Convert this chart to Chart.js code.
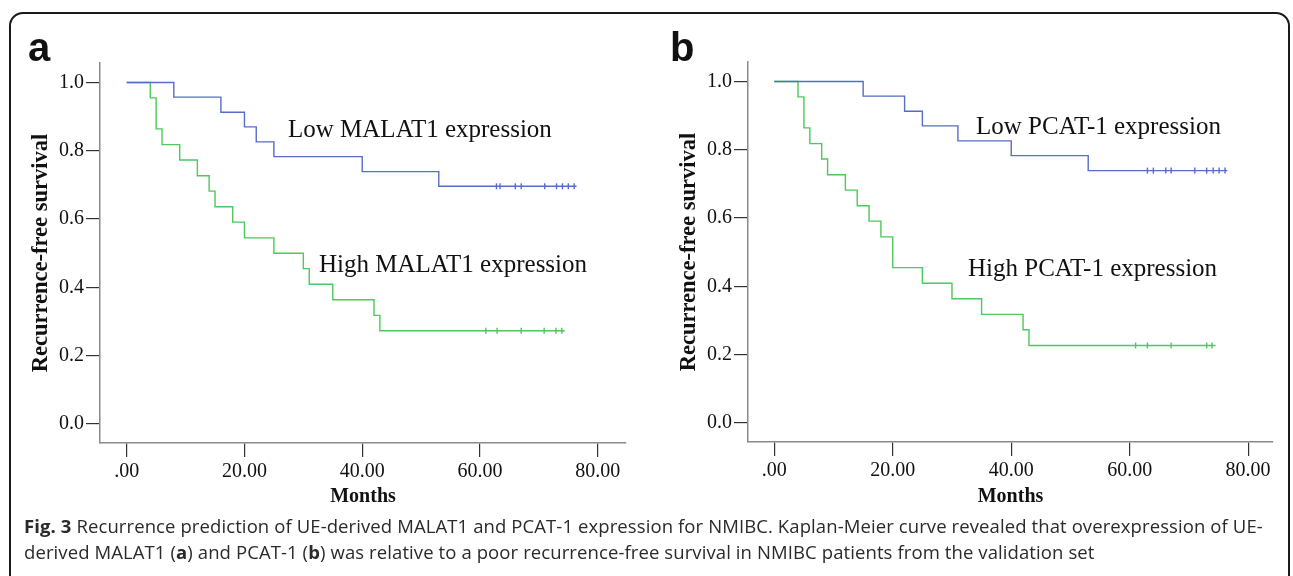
<!DOCTYPE html>
<html>
<head>
<meta charset="utf-8">
<script src="https://cdn.jsdelivr.net/npm/chart.js@4.4.1/dist/chart.umd.min.js"></script>
<style>
  html, body { margin: 0; padding: 0; background: #fff; }
  body { width: 1293px; height: 576px; position: relative; overflow: hidden; }
  .frame {
    position: absolute; left: 9px; top: 12px; width: 1281px; height: 620px;
    border: 2px solid #1a1a1a; border-radius: 14px; box-sizing: border-box;
  }
  canvas { position: absolute; top: 0; }
  #chartA { left: 0; }
  #chartB { left: 648px; }
  .letter {
    position: absolute; font-family: "Liberation Sans", Arial, sans-serif;
    font-weight: bold; font-size: 40px; line-height: 1; color: #111;
  }
  .note {
    position: absolute; font-family: "Liberation Serif", "Times New Roman", serif;
    font-size: 25px; line-height: 1; color: #111; white-space: nowrap;
  }
  .caption {
    position: absolute; left: 24px; font-family: "Open Sans", "Noto Sans", sans-serif;
    font-size: 18.5px; line-height: 26px; color: #2a2a2a; white-space: nowrap;
    letter-spacing: 0.1px;
  }
</style>
</head>
<body>
<div class="frame"></div>
<canvas id="chartA" width="646" height="520"></canvas>
<canvas id="chartB" width="645" height="520"></canvas>

<div class="letter" style="left:28px; top:27px;">a</div>
<div class="letter" style="left:670px; top:27px;">b</div>

<div class="note" style="left:288px; top:116px;">Low MALAT1 expression</div>
<div class="note" style="left:319px; top:251px;">High MALAT1 expression</div>
<div class="note" style="left:976px; top:113px;">Low PCAT-1 expression</div>
<div class="note" style="left:968px; top:255px;">High PCAT-1 expression</div>

<div class="caption" style="top:513px;">
  <b>Fig. 3</b> Recurrence prediction of UE-derived MALAT1 and PCAT-1 expression for NMIBC. Kaplan-Meier curve revealed that overexpression of UE-<br>
  derived MALAT1 (<b>a</b>) and PCAT-1 (<b>b</b>) was relative to a poor recurrence-free survival in NMIBC patients from the validation set
</div>

<script>
// Tick values
const monthTicks = [0, 20, 40, 60, 80];
const survivalTicks = [0, 0.2, 0.4, 0.6, 0.8, 1.0];

// Panel a - MALAT1 (event times in months, survival after each event)
const malatLowTimes = [0, 8, 16, 20, 22, 25, 40, 53, 76.4];
const malatLowSurv = [1, 0.957, 0.913, 0.870, 0.826, 0.783, 0.739, 0.696, 0.696];
const malatLowCensor = [62.8, 63.4, 66, 67, 71, 73, 74, 75, 76];

const malatHighTimes = [0, 4, 5, 6, 9, 12, 14, 15, 18, 20, 25, 30, 31, 35, 42, 43, 74.4];
const malatHighSurv = [1, 0.955, 0.864, 0.818, 0.773, 0.727, 0.682, 0.636, 0.591, 0.545, 0.5, 0.455, 0.409, 0.364, 0.318, 0.273, 0.273];
const malatHighCensor = [61, 62.9, 67, 70.9, 72.9, 73.9];

// Panel b - PCAT-1
const pcatLowTimes = [0, 15, 22, 25, 31, 40, 53, 76.5];
const pcatLowSurv = [1, 0.957, 0.913, 0.870, 0.826, 0.783, 0.739, 0.739];
const pcatLowCensor = [63, 64, 66.1, 67, 71, 73, 74.1, 75.1, 76.1];

const pcatHighTimes = [0, 4, 5, 6, 8, 9, 12, 14, 16, 18, 20, 25, 30, 35, 42, 43, 74.5];
const pcatHighSurv = [1, 0.955, 0.864, 0.818, 0.773, 0.727, 0.682, 0.636, 0.591, 0.545, 0.455, 0.409, 0.364, 0.318, 0.273, 0.227, 0.227];
const pcatHighCensor = [61, 63, 67, 73, 73.9];

const lowColor = '#566dc8';
const highColor = '#4cc85c';

// survival value of a step curve at time t
function survAt(times, surv, t) {
  let s = surv[0];
  for (let i = 0; i < times.length; i++) {
    if (times[i] <= t) s = surv[i];
  }
  return s;
}

function curveDataset(times, surv, color) {
  return {
    data: times.map((t, i) => ({ x: t, y: surv[i] })),
    showLine: true,
    stepped: 'before',
    borderColor: color,
    borderWidth: 1.4,
    pointRadius: 0,
    fill: false
  };
}

function censorDataset(censor, times, surv, color) {
  return {
    data: censor.map(t => ({ x: t, y: survAt(times, surv, t) })),
    showLine: false,
    pointStyle: 'line',
    rotation: 90,
    pointRadius: 3,
    borderColor: color,
    borderWidth: 1.4
  };
}

const serif = '"Liberation Serif", "Times New Roman", serif';

function buildChart(canvasId, datasets, opts) {
  const ctx = document.getElementById(canvasId);
  return new Chart(ctx.getContext('2d'), {
    type: 'scatter',
    data: { datasets: datasets },
    options: {
      responsive: false,
      animation: false,
      devicePixelRatio: 1,
      layout: { padding: { top: opts.top, right: 20, left: 0, bottom: 0 } },
      plugins: { legend: { display: false }, tooltip: { enabled: false } },
      scales: {
        x: {
          type: 'linear',
          min: opts.xMin,
          max: opts.xMax,
          afterBuildTicks: function(scale) {
            scale.ticks = monthTicks.map(v => ({ value: v }));
          },
          afterFit: function(scale) { scale.height = opts.xHeight; },
          ticks: {
            callback: v => (v === 0 ? '.00' : v.toFixed(2)),
            font: { family: serif, size: 20 },
            color: '#111',
            padding: 3,
            maxRotation: 0
          },
          grid: { drawOnChartArea: false, tickLength: 14, color: '#333', lineWidth: 1.2 },
          border: { color: '#8a8a8a', width: 1.5 },
          title: {
            display: true,
            text: 'Months',
            font: { family: serif, size: 20, weight: 'bold' },
            color: '#111',
            padding: { top: 0, bottom: 11 }
          }
        },
        y: {
          type: 'linear',
          min: -0.0556,
          max: 1.057,
          afterBuildTicks: function(scale) {
            scale.ticks = survivalTicks.map(v => ({ value: v }));
          },
          afterFit: function(scale) { scale.width = 100; },
          ticks: {
            callback: v => v.toFixed(1),
            font: { family: serif, size: 20 },
            color: '#111',
            padding: 2
          },
          grid: { drawOnChartArea: false, tickLength: 14, color: '#333', lineWidth: 1.2 },
          border: { color: '#8a8a8a', width: 1.5 },
          title: {
            display: true,
            text: 'Recurrence-free survival',
            font: { family: serif, size: 22.5, weight: 'bold' },
            color: '#111',
            padding: { top: 28, bottom: 0 }
          }
        }
      }
    }
  });
}

buildChart('chartA', [
  curveDataset(malatLowTimes, malatLowSurv, lowColor),
  curveDataset(malatHighTimes, malatHighSurv, highColor),
  censorDataset(malatLowCensor, malatLowTimes, malatLowSurv, lowColor),
  censorDataset(malatHighCensor, malatHighTimes, malatHighSurv, highColor)
], { top: 63, xHeight: 77, xMin: -4.535, xMax: 84.8 });

buildChart('chartB', [
  curveDataset(pcatLowTimes, pcatLowSurv, lowColor),
  curveDataset(pcatHighTimes, pcatHighSurv, highColor),
  censorDataset(pcatLowCensor, pcatLowTimes, pcatLowSurv, lowColor),
  censorDataset(pcatHighCensor, pcatHighTimes, pcatHighSurv, highColor)
], { top: 62, xHeight: 78, xMin: -4.44, xMax: 84.2 });
</script>
</body>
</html>
